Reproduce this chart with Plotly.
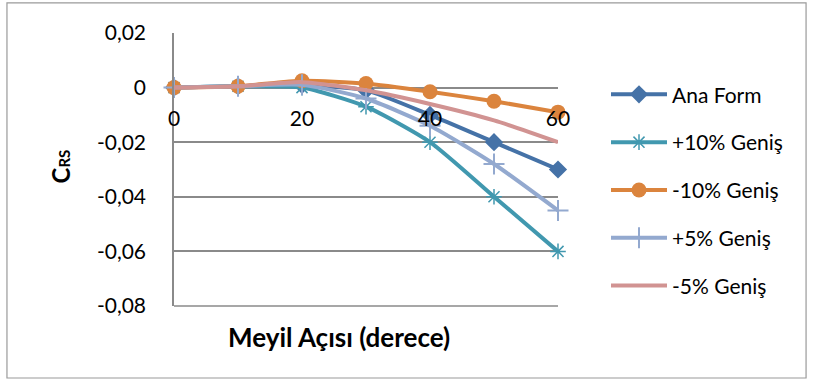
import plotly.graph_objects as go

# Meyil açısı (derece)
angles = [0, 10, 20, 30, 40, 50, 60]

# C_RS values for each hull form
ana_form = [0.0, 0.0005, 0.001, -0.001, -0.010, -0.020, -0.030]
plus10 = [0.0, 0.0005, 0.0, -0.007, -0.020, -0.040, -0.060]
minus10 = [0.0, 0.0005, 0.0025, 0.0015, -0.0015, -0.005, -0.009]
plus5 = [0.0, 0.0005, 0.001, -0.004, -0.014, -0.028, -0.045]
minus5 = [0.0, 0.0005, 0.002, -0.001, -0.006, -0.012, -0.020]

series_names = ["Ana Form", "+10% Geniş", "-10% Geniş", "+5% Geniş", "-5% Geniş"]

y_tick_vals = [0.02, 0.0, -0.02, -0.04, -0.06, -0.08]
y_tick_text = ["0,02", "0", "-0,02", "-0,04", "-0,06", "-0,08"]
x_tick_vals = [0, 20, 40, 60]

FONT = "Lato"
GRID = "#8a8a8a"

styles = [
    dict(color="#4572A7", marker=dict(symbol="diamond", size=14, color="#4572A7")),
    dict(color="#4198AF", marker=dict(symbol="asterisk-open", size=13,
                                      line=dict(color="#4198AF", width=1.5))),
    dict(color="#DB843D", marker=dict(symbol="circle", size=15, color="#DB843D")),
    dict(color="#93A9CF", marker=dict(symbol="cross-thin-open", size=15,
                                      line=dict(color="#93A9CF", width=2))),
    dict(color="#D19392", marker=None),
]

fig = go.Figure()
for name, vals, st in zip(series_names, [ana_form, plus10, minus10, plus5, minus5], styles):
    kw = dict(
        x=angles, y=vals, name=name, legendgroup=name,
        line=dict(color=st["color"], width=4, shape="spline", smoothing=0.6),
        cliponaxis=False,
    )
    if st["marker"] is None:
        kw["mode"] = "lines"
    else:
        kw["mode"] = "lines+markers"
        kw["marker"] = st["marker"]
    fig.add_trace(go.Scatter(**kw))

y_range = [min(y_tick_vals), max(y_tick_vals)]
x_range = [min(angles), max(angles)]
x_axis_pos = (0 - y_range[0]) / (y_range[1] - y_range[0])

fig.update_layout(
    width=813, height=381,
    margin=dict(l=174, r=255, t=33, b=75),
    paper_bgcolor="white", plot_bgcolor="white",
    separators=", ",
    font=dict(family=FONT, size=21, color="black"),
    showlegend=True,
    legend=dict(
        x=1.125, xanchor="left", y=0.849, yanchor="top",
        font=dict(family=FONT, size=21, color="black"),
        tracegroupgap=17.5, itemwidth=56,
        bgcolor="rgba(0,0,0,0)",
    ),
    xaxis=dict(
        range=x_range, tickvals=x_tick_vals,
        anchor="free", position=x_axis_pos,
        showgrid=False, zeroline=False, showline=False,
        ticks="", ticklabelstandoff=16,
        tickfont=dict(family=FONT, size=21, color="black"),
    ),
    yaxis=dict(
        range=y_range, tickvals=y_tick_vals, ticktext=y_tick_text,
        showgrid=True, gridcolor=GRID, gridwidth=1.5,
        zeroline=False, showline=True, linecolor=GRID, linewidth=1.5,
        ticks="", ticklabelstandoff=22,
        tickfont=dict(family=FONT, size=21, color="black"),
    ),
)

# bottom gridline sits on the plot edge, where plotly skips it
fig.add_shape(
    type="line", xref="paper", yref="paper",
    x0=0, x1=1, y0=0, y1=0,
    line=dict(color=GRID, width=1.5), layer="above",
)

# axis titles
fig.add_annotation(
    text="Meyil Açısı (derece)", xref="paper", yref="paper",
    x=0.43, y=-0.114, xanchor="center", yanchor="middle", showarrow=False,
    font=dict(family=FONT, size=26, color="black", weight="bold"),
)
fig.add_annotation(
    text="C<span style='font-size:15px'>RS</span>", xref="paper", yref="paper",
    x=-0.295, y=0.51, xanchor="center", yanchor="middle", showarrow=False,
    textangle=-90,
    font=dict(family=FONT, size=24, color="black", weight="bold"),
)

# chart frame
fig.add_shape(
    type="rect", xref="paper", yref="paper",
    x0=-0.435, x1=1.646, y0=-0.2637, y1=1.11,
    line=dict(color="#9a9a9a", width=1.2), fillcolor="rgba(0,0,0,0)", layer="below",
)

fig.write_html("out.html")
